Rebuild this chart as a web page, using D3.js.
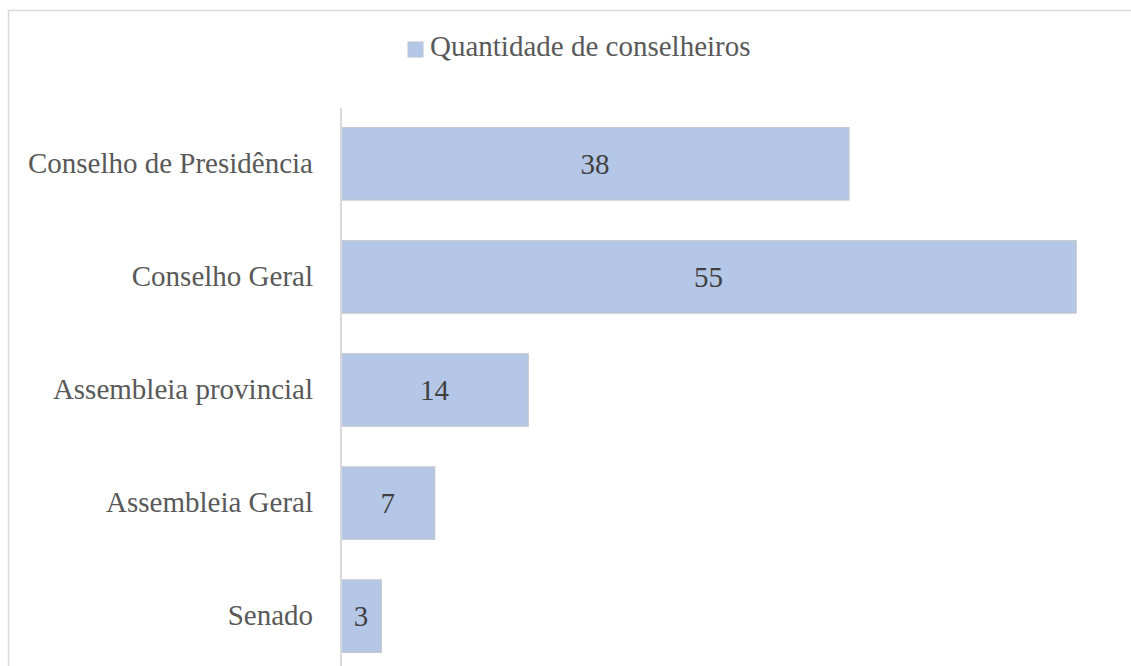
<!DOCTYPE html>
<html><head><meta charset="utf-8">
<script src="https://cdn.jsdelivr.net/npm/d3@7"></script>
<style>body{margin:0;background:#fff}svg{display:block}</style>
</head><body>
<svg id="c" width="1131" height="666"></svg>
<script>
const categories = ["Conselho de Presidência","Conselho Geral","Assembleia provincial","Assembleia Geral","Senado"];
const values = [38,55,14,7,3];
const seriesName = "Quantidade de conselheiros";

const svg = d3.select("#c");
const font = "'Liberation Serif','Times New Roman',serif";

// chart border
svg.append("rect").attr("x",8.5).attr("y",10.5).attr("width",1200).attr("height",800)
  .attr("fill","#fff").attr("stroke","#d9d9d9").attr("stroke-width",1.5);

const x = d3.scaleLinear().domain([0,55]).range([341,1076]);
const y = d3.scaleBand().domain(categories).range([107.5,672.5]).paddingInner(0.363).paddingOuter(0.18);

// bars
svg.selectAll("rect.bar").data(categories).join("rect").attr("class","bar")
  .attr("x",x(0)).attr("y",d=>y(d))
  .attr("width",(d,i)=>x(values[i])-x(0)).attr("height",y.bandwidth())
  .attr("fill","#b4c7e7").attr("stroke","#bcc4d2").attr("stroke-width",1.5);

// value labels
svg.selectAll("text.val").data(categories).join("text").attr("class","val")
  .attr("x",(d,i)=>(x(0)+x(values[i]))/2).attr("y",d=>y(d)+y.bandwidth()/2)
  .attr("dy","0.35em").attr("text-anchor","middle")
  .attr("font-family",font).attr("font-size",29).attr("fill","#404040")
  .text((d,i)=>values[i]);

// axis
const ax = svg.append("g").attr("transform",`translate(${x(0)},0)`)
  .call(d3.axisLeft(y).tickSize(0).tickPadding(28));
ax.select(".domain").attr("stroke","#d9d9d9").attr("stroke-width",2)
  .attr("d","M0,108V672");
ax.selectAll("text").attr("font-family",font).attr("font-size",29).attr("fill","#595959");

// legend
const lg = svg.append("g");
lg.append("rect").attr("x",408).attr("y",42).attr("width",15).attr("height",15)
  .attr("fill","#b4c7e7").attr("stroke","#bcc4d2").attr("stroke-width",1);
lg.append("text").attr("x",430).attr("y",56).attr("font-family",font).attr("font-size",29)
  .attr("fill","#595959").text(seriesName);
</script>
</body></html>
